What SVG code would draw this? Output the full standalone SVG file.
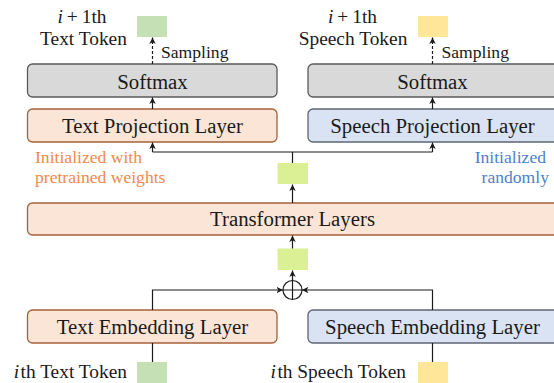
<svg xmlns="http://www.w3.org/2000/svg" width="554" height="383" viewBox="0 0 554 383">
<style>
.lbl{font-family:"Liberation Serif","Times New Roman",serif;fill:#1a1a1a}
.big{font-size:20.8px;text-anchor:middle}
.tok{font-size:19.4px}
.sm{font-size:17.6px}
.orange{fill:#f08a4b}
.blue{fill:#4f7fcc}
.boxO{fill:#fbe5d6;stroke:#a5613a;stroke-width:1.3}
.boxB{fill:#dae3f3;stroke:#5d6675;stroke-width:1.3}
.boxG{fill:#d9d9d9;stroke:#5a5a5a;stroke-width:1.3}
.line{fill:none;stroke:#1a1a1a;stroke-width:1.2}
</style>
<defs>
<marker id="ah" markerUnits="userSpaceOnUse" markerWidth="8" markerHeight="8" refX="6.5" refY="3.25" orient="auto">
<path d="M0,0 L6.5,3.25 L0,6.5 L1.8,3.25 z" fill="#1a1a1a"/>
</marker>
</defs>
<rect width="554" height="383" fill="#ffffff"/>

<g id="text-token-top">
<rect x="137" y="16" width="30" height="21" fill="#c5e0b4"/>
<text class="lbl tok" x="82" y="23" text-anchor="middle"><tspan font-style="italic">i</tspan><tspan dx="4">+</tspan><tspan dx="4">1th</tspan></text>
<text class="lbl tok" x="83.5" y="45" text-anchor="middle">Text Token</text>
</g>
<g id="speech-token-top">
<rect x="418" y="16" width="30" height="21" fill="#ffe699"/>
<text class="lbl tok" x="352.5" y="23" text-anchor="middle"><tspan font-style="italic">i</tspan><tspan dx="4">+</tspan><tspan dx="4">1th</tspan></text>
<text class="lbl tok" x="353" y="45" text-anchor="middle">Speech Token</text>
</g>
<g id="softmax-left">
<rect class="boxG" x="27.5" y="64" width="249.5" height="33" rx="5"/>
<text class="lbl big" x="152.5" y="89">Softmax</text>
</g>
<g id="softmax-right">
<rect class="boxG" x="308" y="64" width="252" height="33" rx="5"/>
<text class="lbl big" x="432.5" y="89">Softmax</text>
</g>
<g id="text-projection">
<rect class="boxO" x="27.5" y="109" width="249.5" height="33" rx="5"/>
<text class="lbl big" x="152.5" y="132.5">Text Projection Layer</text>
</g>
<g id="speech-projection">
<rect class="boxB" x="308" y="109" width="252" height="33" rx="5"/>
<text class="lbl big" x="432.5" y="132.5">Speech Projection Layer</text>
</g>
<g id="note-left">
<text class="lbl sm orange" x="35" y="163">Initialized with</text>
<text class="lbl sm orange" x="35" y="183">pretrained weights</text>
</g>
<g id="note-right">
<text class="lbl sm blue" x="546" y="163" text-anchor="end">Initialized</text>
<text class="lbl sm blue" x="549" y="183" text-anchor="end">randomly</text>
</g>
<g id="hidden-out">
<rect x="277.5" y="163" width="30.5" height="21" fill="#dbef94"/>
</g>
<g id="transformer">
<rect class="boxO" x="27.5" y="203" width="533" height="32" rx="5"/>
<text class="lbl big" x="292.5" y="226">Transformer Layers</text>
</g>
<g id="hidden-in">
<rect x="277.5" y="248.5" width="30.5" height="21.5" fill="#dbef94"/>
</g>
<g id="add">
<circle cx="292.5" cy="290" r="9.5" fill="#ffffff" stroke="#1a1a1a" stroke-width="1.2"/>
<path class="line" d="M283,290 H302 M292.5,280.5 V299.5"/>
</g>
<g id="text-embedding">
<rect class="boxO" x="27.5" y="310" width="249.5" height="33" rx="5"/>
<text class="lbl big" x="152.5" y="334">Text Embedding Layer</text>
</g>
<g id="speech-embedding">
<rect class="boxB" x="308" y="310" width="252" height="33" rx="5"/>
<text class="lbl big" x="432.5" y="334">Speech Embedding Layer</text>
</g>
<g id="text-token-bottom">
<rect x="137" y="362" width="30" height="22" fill="#c5e0b4"/>
<text class="lbl tok" x="127" y="378" text-anchor="end"><tspan font-style="italic">i</tspan><tspan dx="1.5">th Text Token</tspan></text>
</g>
<g id="speech-token-bottom">
<rect x="418" y="362" width="30" height="22" fill="#ffe699"/>
<text class="lbl tok" x="406" y="378" text-anchor="end"><tspan font-style="italic">i</tspan><tspan dx="1.5">th Speech Token</tspan></text>
</g>

<g id="connectors">
<path class="line" d="M152.5,64 V37.5" stroke-dasharray="3,2" marker-end="url(#ah)"/>
<path class="line" d="M432.5,64 V37.5" stroke-dasharray="3,2" marker-end="url(#ah)"/>
<text class="lbl sm" x="161" y="58" font-size="17.3px">Sampling</text>
<text class="lbl sm" x="441.5" y="58" font-size="17.3px">Sampling</text>
<path class="line" d="M152.5,109 V97.5" marker-end="url(#ah)"/>
<path class="line" d="M432.5,109 V97.5" marker-end="url(#ah)"/>
<path class="line" d="M152.5,152 H432.5 M292.5,152 V163"/>
<path class="line" d="M152.5,152 V142.5" marker-end="url(#ah)"/>
<path class="line" d="M432.5,152 V142.5" marker-end="url(#ah)"/>
<path class="line" d="M292.5,203 V184.5" marker-end="url(#ah)"/>
<path class="line" d="M292.5,248.5 V235.5" marker-end="url(#ah)"/>
<path class="line" d="M292.5,280.5 V270.5" marker-end="url(#ah)"/>
<path class="line" d="M152.5,310 V290 H283" marker-end="url(#ah)"/>
<path class="line" d="M432.5,310 V290 H302" marker-end="url(#ah)"/>
<path class="line" d="M152.5,362 V343"/>
<path class="line" d="M432.5,362 V343"/>
</g>
</svg>
